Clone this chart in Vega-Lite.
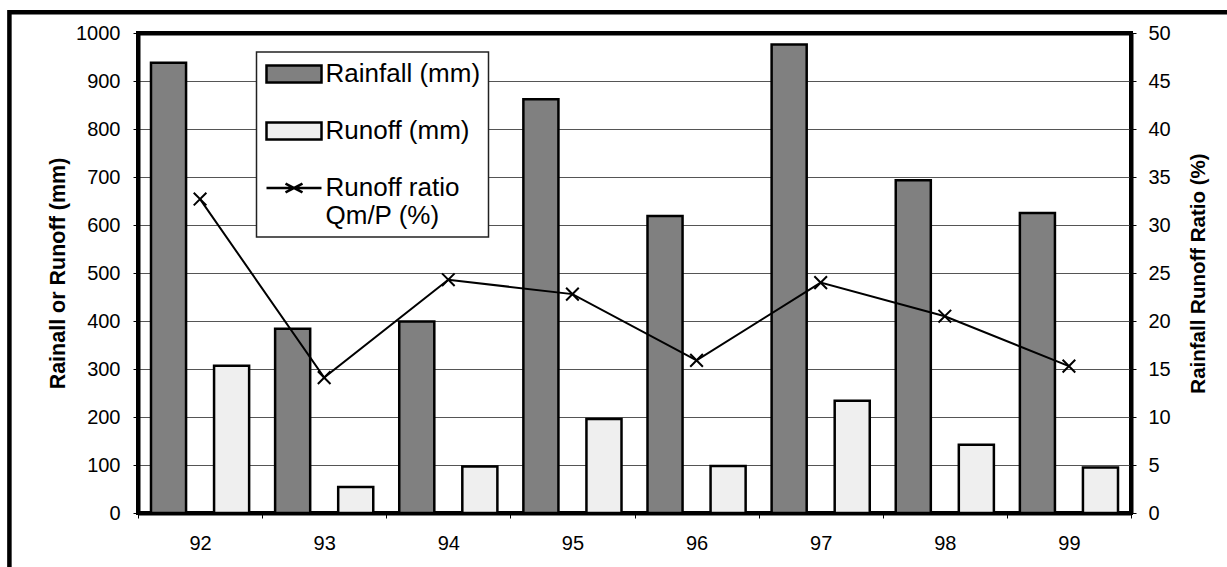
{
  "$schema": "https://vega.github.io/schema/vega-lite/v6.json",
  "width": 993,
  "height": 480,
  "autosize": {"type": "none"},
  "padding": {"left": 138, "top": 33, "right": 96, "bottom": 54},
  "background": "white",
  "config": {
    "font": "Liberation Sans",
    "view": {"stroke": "black", "strokeWidth": 4},
    "axis": {
      "labelFont": "Liberation Sans",
      "labelFontSize": 20,
      "labelColor": "black",
      "titleFont": "Liberation Sans",
      "titleFontSize": 21,
      "titleFontWeight": "bold",
      "titleColor": "black",
      "tickColor": "black",
      "tickSize": 5,
      "domain": true,
      "domainColor": "black",
      "domainWidth": 4,
      "grid": false
    }
  },
  "datasets": {
    "bars": [
      {"year": "92", "series": "Rainfall (mm)", "value": 938},
      {"year": "92", "series": "Runoff (mm)", "value": 307},
      {"year": "93", "series": "Rainfall (mm)", "value": 384},
      {"year": "93", "series": "Runoff (mm)", "value": 54},
      {"year": "94", "series": "Rainfall (mm)", "value": 399},
      {"year": "94", "series": "Runoff (mm)", "value": 97},
      {"year": "95", "series": "Rainfall (mm)", "value": 862},
      {"year": "95", "series": "Runoff (mm)", "value": 196},
      {"year": "96", "series": "Rainfall (mm)", "value": 619},
      {"year": "96", "series": "Runoff (mm)", "value": 98},
      {"year": "97", "series": "Rainfall (mm)", "value": 976},
      {"year": "97", "series": "Runoff (mm)", "value": 234},
      {"year": "98", "series": "Rainfall (mm)", "value": 693},
      {"year": "98", "series": "Runoff (mm)", "value": 142},
      {"year": "99", "series": "Rainfall (mm)", "value": 625},
      {"year": "99", "series": "Runoff (mm)", "value": 95}
    ],
    "ratio": [
      {"year": "92", "ratio": 32.7},
      {"year": "93", "ratio": 14.1},
      {"year": "94", "ratio": 24.3},
      {"year": "95", "ratio": 22.8},
      {"year": "96", "ratio": 15.9},
      {"year": "97", "ratio": 24.0},
      {"year": "98", "ratio": 20.5},
      {"year": "99", "ratio": 15.3}
    ],
    "frame": [
      {"frame": "outer"}
    ]
  },
  "layer": [
    {
      "data": {"name": "frame"},
      "mark": {"type": "rect", "fill": "white", "fillOpacity": 0, "stroke": "black", "strokeWidth": 4.5, "clip": false},
      "encoding": {
        "x": {"datum": "92", "type": "nominal", "bandPosition": -1.036, "axis": null},
        "x2": {"datum": "99", "bandPosition": 3},
        "y": {"datum": 1043, "type": "quantitative", "scale": {"domain": [0, 1000]}, "axis": null},
        "y2": {"datum": -250}
      }
    },
    {
      "data": {"name": "bars"},
      "mark": {"type": "bar", "stroke": "black", "strokeWidth": 2.5},
      "encoding": {
        "x": {
          "field": "year",
          "type": "nominal",
          "scale": {"paddingInner": 0, "paddingOuter": 0},
          "axis": {"orient": "bottom", "title": null, "labelAngle": 0, "tickBand": "extent", "labelPadding": 15}
        },
        "xOffset": {
          "field": "series",
          "type": "nominal",
          "sort": ["Rainfall (mm)", "Runoff (mm)"],
          "scale": {"paddingInner": 0.444, "paddingOuter": 0.206}
        },
        "y": {
          "field": "value",
          "type": "quantitative",
          "scale": {"domain": [0, 1000]},
          "axis": {
            "title": "Rainall or Runoff (mm)",
            "titleFontSize": 21.5,
            "format": "d",
            "values": [0, 100, 200, 300, 400, 500, 600, 700, 800, 900, 1000],
            "grid": true,
            "gridColor": {"condition": {"test": "datum.value === 0 || datum.value === 1000", "value": "transparent"}, "value": "#555555"},
            "gridWidth": 1,
            "labelPadding": 13,
            "titlePadding": 6
          }
        },
        "fill": {
          "field": "series",
          "type": "nominal",
          "scale": {
            "domain": ["Rainfall (mm)", "Runoff (mm)", "Runoff ratio Qm/P (%)"],
            "range": ["#808080", "#efefef", "transparent"]
          },
          "legend": {
            "orient": "none",
            "legendX": 118.5,
            "legendY": 19,
            "title": null,
            "padding": 8,
            "fillColor": "white",
            "strokeColor": "#222222",
            "symbolSize": 625,
            "symbolStrokeColor": "black",
            "symbolStrokeWidth": 2.5,
            "symbolOpacity": 1,
            "labelFont": "Liberation Sans",
            "labelFontSize": 26,
            "labelColor": "black",
            "labelOffset": 33,
            "labelLimit": 400,
            "rowPadding": 29,
            "labelExpr": "datum.label === 'Runoff ratio Qm/P (%)' ? ['Runoff ratio', 'Qm/P (%)'] : datum.label",
            "encode": {
              "legend": {
                "update": {"strokeWidth": {"value": 1.5}}
              },
              "symbols": {
                "update": {
                  "shape": {"signal": "datum.value === 'Runoff ratio Qm/P (%)' ? 'M-0.96,0H3.44M0.56,-0.35L1.92,0.35M0.56,0.35L1.92,-0.35' : 'M-0.96,-0.68H3.44V0.68H-0.96Z'"},
                  "stroke": {"value": "black"}
                }
              }
            }
          }
        }
      }
    },
    {
      "data": {"name": "ratio"},
      "encoding": {
        "x": {
          "field": "year",
          "type": "nominal",
          "axis": {"orient": "top", "labels": false, "ticks": false, "title": null, "domainWidth": 4}
        },
        "y": {
          "field": "ratio",
          "type": "quantitative",
          "scale": {"domain": [0, 50]},
          "axis": {
            "orient": "right",
            "title": "Rainfall Runoff Ratio (%)",
            "titleFontSize": 20.5,
            "titleAngle": 270,
            "values": [0, 5, 10, 15, 20, 25, 30, 35, 40, 45, 50],
            "labelPadding": 12,
            "titlePadding": 38
          }
        }
      },
      "layer": [
        {"mark": {"type": "line", "color": "black", "strokeWidth": 2}},
        {"mark": {"type": "point", "shape": "M-1,-1L1,1M-1,1L1,-1", "size": 160, "filled": false, "stroke": "black", "strokeWidth": 2, "opacity": 1}}
      ]
    }
  ],
  "resolve": {"scale": {"y": "independent"}, "axis": {"x": "independent"}}
}
